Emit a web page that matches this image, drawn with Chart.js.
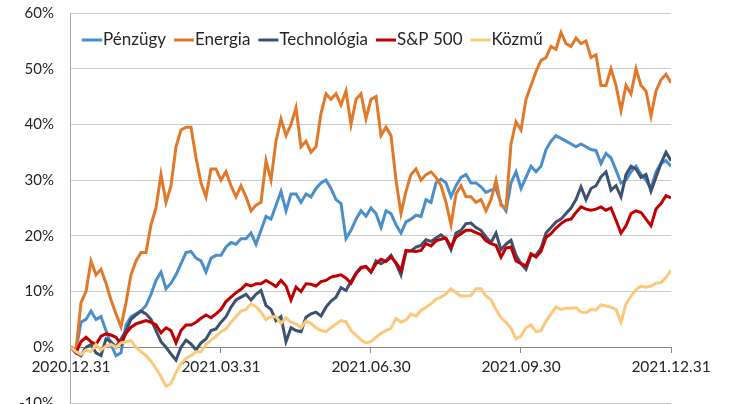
<!DOCTYPE html>
<html>
<head>
<meta charset="utf-8">
<script src="https://cdn.jsdelivr.net/npm/chart.js@4.4.0/dist/chart.umd.min.js"></script>
<style>
  html, body { margin: 0; padding: 0; background: #fff; overflow: hidden; }
  #wrap { width: 731px; height: 404px; position: relative; }
</style>
</head>
<body>
<div id="wrap"><canvas id="chart"></canvas></div>
<script>
// Quarter-end dates shown on the time axis and their positions in the series
const dateLabels = ['2020.12.31', '2021.03.31', '2021.06.30', '2021.09.30', '2021.12.31'];
const datePositions = [0, 30, 60, 90, 120];

// Cumulative return since 2020.12.31 (%), sampled evenly through 2021
const penzugy = [
  0, -0.5, 4.5, 5, 6.5, 5, 5.5, 3, 0.5, -1.5, -1, 4, 5.5, 6, 6.5, 7.5, 9.5, 12, 13.5, 10.5,
  11.5, 13, 15, 17, 17.2, 16, 15.5, 13.5, 16, 16.5, 16.5, 18, 18.8, 18.5, 19.5, 19.5, 20.5, 18.5, 21, 23.5,
  23, 25.5, 28, 24.5, 27.5, 27.5, 26, 27.5, 27, 28.5, 29.5, 30, 28.5, 26.5, 25.8, 19.5, 21, 23, 24.5, 23.5,
  25, 24, 21.5, 24.5, 24, 22, 20.5, 22.5, 23, 23.7, 23.5, 26.5, 26, 29.5, 30.2, 29.5, 27, 29, 30.5, 31,
  29.5, 29.5, 28.8, 27.8, 28.2, 28.5, 25.8, 24.5, 29.5, 31.5, 28.5, 30.5, 32.5, 31.5, 32.5, 35.5, 37, 38, 37.5, 37,
  36.5, 36, 36.5, 36, 35.5, 35.3, 33, 34.8, 34, 31.8, 29.5, 30, 31.5, 32.5, 31, 30, 28.5, 31.5, 33, 33.5, 32.5
];
const energia = [
  0, -0.5, 8, 10, 15.5, 13, 14, 11.5, 8.5, 6, 3.7, 8, 13, 15.5, 17, 17, 22, 25, 31, 26,
  29, 36, 39, 39.5, 39.5, 34, 29.5, 27, 32, 32, 30, 31.5, 29, 27, 29, 27, 24.5, 25.5, 26, 33.5,
  30, 37, 41, 38, 40, 43, 36, 37, 35, 36, 42, 45.5, 44.5, 45.5, 43.5, 46, 40, 44.5, 45.5, 41,
  44.5, 45, 38, 39.5, 38, 30, 24, 28, 31, 32, 30, 31, 31.5, 30.5, 29, 26, 22, 27.5, 29, 27,
  27, 26, 26.5, 24.5, 26.5, 30, 25.5, 25, 36.5, 40.5, 39, 44.5, 47, 49.5, 51.5, 52, 54, 53.5, 56.5, 54.5,
  54, 55.5, 54.5, 55, 52, 52.5, 47, 47, 50, 47, 42.5, 47, 45.5, 50, 47, 46, 41.5, 46, 48, 49, 47.5
];
const technologia = [
  0, -1, -1.5, 0, 0.5, -1, -1.5, 1.5, 1, 0, 1.5, 3, 5, 5.8, 6.5, 6, 5, 3, 1, 0,
  -1.2, -2.3, 0, 1.3, 0.6, -0.5, 0.8, 1.5, 3, 3.3, 4.5, 5.5, 7.2, 8.5, 9, 9.5, 8.5, 9.5, 10.2, 7.5,
  6.8, 4.8, 5.5, 1, 3.5, 3, 2.8, 5.4, 6, 6.3, 5.6, 7.2, 8.3, 9, 10.7, 10.2, 11.8, 13.3, 14.4, 14.5,
  13.5, 15.5, 15, 15.5, 16.5, 15, 13, 17.2, 17.3, 18, 18.3, 19.3, 19, 19.6, 20.2, 19.5, 17.5, 20.5, 21, 22.2,
  22.3, 21.5, 21, 19.8, 18.8, 20.5, 17.5, 18.5, 19.2, 16.5, 15, 14, 16.5, 16.5, 17.8, 20.5, 21.5, 22.5, 23, 24,
  25, 26.5, 28.8, 26.5, 28.5, 29, 30.6, 31.5, 28.2, 29, 27, 31, 32.5, 32, 30.5, 31, 28, 30.5, 33, 35, 33.5
];
const sp500 = [
  0, -1, 1, 1.8, 1, 0.5, 2, 2.4, 2.2, 1.8, 0.6, 2.5, 3.6, 4.2, 4.5, 4.8, 4.5, 4, 2.6, 3.5,
  3, 0.8, 3, 4, 4, 4.5, 5.2, 5.8, 5.3, 6, 6.8, 8.2, 9, 9.8, 10.4, 11.3, 11, 11.4, 11.4, 12,
  11.5, 10.9, 12, 11, 8.5, 10.8, 10, 11.4, 11.3, 11, 11.8, 12, 12.6, 12.8, 13, 12.4, 11.5, 13.2, 14.2, 14.5,
  13.5, 15, 15.8, 15.4, 16.2, 15.2, 13.8, 17.4, 17.3, 17.2, 17.4, 18.6, 18.2, 19.1, 19.4, 19.6, 18, 19.8, 20.4, 21,
  21, 20.6, 20.2, 19.1, 18.6, 18.3, 16.2, 17.8, 18, 15.5, 15, 14.6, 16.8, 16.2, 17.2, 19.7, 20.4, 21.4, 22.2, 22.8,
  23, 24.2, 25.2, 24.8, 24.6, 24.8, 25.2, 24.6, 25, 22.8, 20.5, 21.8, 24, 24.5, 24.2, 23, 21.8, 24.8, 25.8, 27.2, 26.8
];
const kozmu = [
  0, -0.8, -1.3, -0.5, -0.8, 0.5, -0.5, 0.2, 0.5, 0, 0.8, 1, 1.2, 0, -0.8, -1.5, -2.5, -3.8, -5.3, -7,
  -6.5, -4.5, -3, -2, -1.5, -0.8, -0.8, 0.5, 1.3, 2, 2.8, 3.3, 4.5, 5.5, 6.5, 6.8, 7.8, 7.3, 6.3, 5,
  5.5, 5.5, 4.3, 5.3, 4.5, 4.2, 3.5, 4.7, 4.3, 3.5, 3, 2.8, 3.5, 4.2, 4.8, 4.6, 3, 2.2, 1.3, 0.8,
  1, 1.8, 2.5, 3, 3.4, 5.2, 4.5, 4.9, 6, 5.6, 6.6, 7.2, 7.8, 8.6, 9, 9.6, 10.5, 9.8, 9.2, 9.2,
  9.3, 10.5, 10.5, 9.2, 8.5, 6.8, 5.3, 4.5, 3.4, 1.5, 2, 3.5, 4, 2.8, 3, 4.7, 6, 7.2, 6.8, 7,
  7, 7.1, 6.3, 6.2, 6.8, 6.7, 7.6, 7.4, 7.2, 6.8, 4.5, 7.8, 9.2, 10.3, 11, 10.8, 11, 11.5, 11.6, 12.5, 13.8
];

const FONT = 'Lato';
const TEXT = '#262626';

const toPoints = arr => arr.map((v, i) => ({ x: i, y: v }));

const series = [
  { label: 'Pénzügy', values: penzugy, color: '#4a8fcb' },
  { label: 'Energia', values: energia, color: '#e07a2a' },
  { label: 'Technológia', values: technologia, color: '#3d5170' },
  { label: 'S&P 500', values: sp500, color: '#c00000' },
  { label: 'Közmű', values: kozmu, color: '#fcc97c' }
];

// Legend drawn inside the plot area, in one row below the top gridline
const insideLegend = {
  id: 'insideLegend',
  afterDraw(chart) {
    const ctx = chart.ctx;
    ctx.save();
    ctx.font = '17px ' + FONT;
    ctx.textBaseline = 'middle';
    ctx.textAlign = 'left';
    let x = 82;
    const y = 40;
    chart.data.datasets.forEach(ds => {
      ctx.strokeStyle = ds.borderColor;
      ctx.lineWidth = 3;
      ctx.lineCap = 'butt';
      ctx.beginPath();
      ctx.moveTo(x, y);
      ctx.lineTo(x + 20, y);
      ctx.stroke();
      x += 21;
      ctx.fillStyle = TEXT;
      ctx.fillText(ds.label, x, y);
      x += ctx.measureText(ds.label).width + 8;
    });
    ctx.restore();
  }
};

new Chart(document.getElementById('chart'), {
  type: 'line',
  data: {
    datasets: series.map((s, i) => ({
      label: s.label,
      data: toPoints(s.values),
      borderColor: s.color,
      backgroundColor: s.color,
      borderWidth: 3,
      pointRadius: 0,
      tension: 0,
      fill: false,
      order: series.length - i
    }))
  },
  options: {
    responsive: true,
    maintainAspectRatio: false,
    animation: false,
    devicePixelRatio: 1,
    layout: { padding: { left: 2, right: 60, top: 13, bottom: 1 } },
    plugins: { legend: { display: false }, tooltip: { enabled: false } },
    scales: {
      x: {
        type: 'linear',
        position: { y: 0 },
        min: 0,
        max: 120,
        afterBuildTicks: scale => { scale.ticks = datePositions.map(v => ({ value: v })); },
        ticks: {
          callback: v => dateLabels[datePositions.indexOf(v)],
          font: { family: FONT, size: 15.5 },
          color: TEXT,
          padding: 5,
          maxRotation: 0,
          autoSkip: false
        },
        grid: { drawOnChartArea: false, drawTicks: true, tickLength: 5, color: '#8a8a8a' },
        border: { display: true, color: '#8a8a8a', width: 1 }
      },
      y: {
        min: -10,
        max: 60,
        ticks: {
          stepSize: 10,
          callback: v => v + '%',
          font: { family: FONT, size: 15 },
          color: TEXT,
          padding: 17
        },
        grid: { color: '#cccccc', drawTicks: false },
        border: { display: true, color: '#a8a8a8' },
        afterFit: scale => { scale.paddingTop = 0; scale.paddingBottom = 0; }
      }
    }
  },
  plugins: [insideLegend]
});
</script>
</body>
</html>
